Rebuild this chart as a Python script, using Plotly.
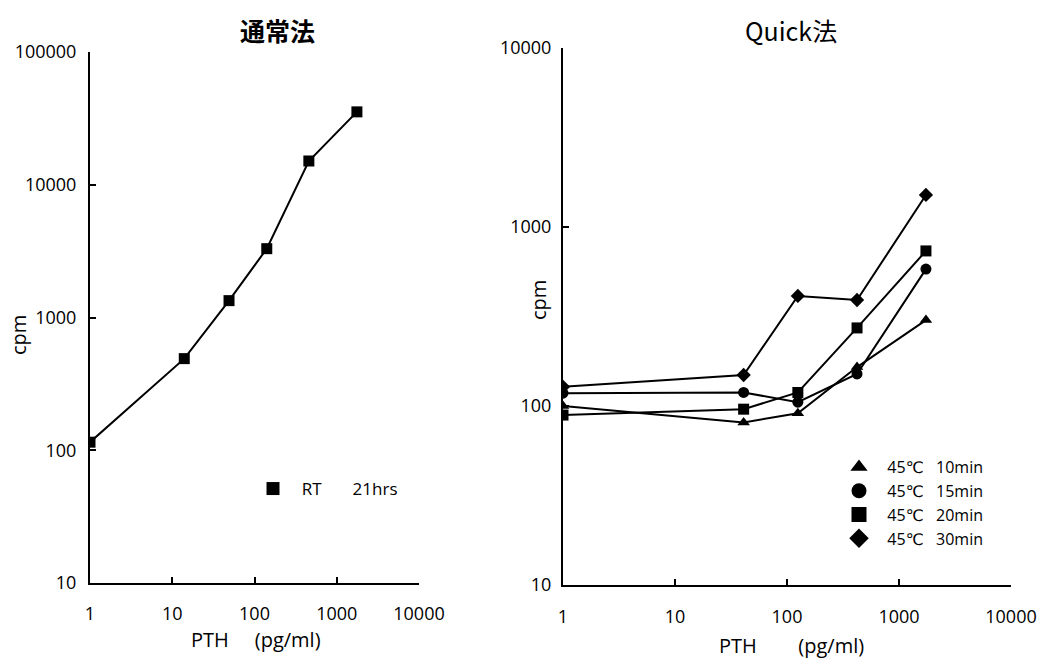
import plotly.graph_objects as go

# ---- data ----
pth_std = [1, 14, 49, 141, 458, 1758]
cpm_std = [115, 490, 1340, 3300, 15100, 35400]

pth_quick = [1, 41, 125, 422, 1740]
cpm_10min = [100, 81, 91, 165, 302]
cpm_15min = [118, 119, 105, 151, 582]
cpm_20min = [89, 96, 119, 273, 735]
cpm_30min = [128, 149, 412, 391, 1510]

quick_series = [
    ("45℃   10min", cpm_10min, "triangle-up"),
    ("45℃   15min", cpm_15min, "circle"),
    ("45℃   20min", cpm_20min, "square"),
    ("45℃   30min", cpm_30min, "diamond"),
]

x_ticks = [1, 10, 100, 1000, 10000]
y_ticks_std = [10, 100, 1000, 10000, 100000]
y_ticks_quick = [10, 100, 1000, 10000]

FONT = "Open Sans, DejaVu Sans, sans-serif"
CJK = "Noto Sans CJK JP"
NB = "\u00a0"
W, H = 1056, 663

fig = go.Figure()

fig.add_trace(go.Scatter(
    x=pth_std, y=cpm_std, mode="lines+markers",
    line=dict(color="black", width=2),
    marker=dict(symbol="square", size=11, color="black"),
    xaxis="x", yaxis="y", showlegend=False))
fig.add_trace(go.Scatter(
    x=[None], y=[None], mode="markers", name=NB * 2 + "RT" + NB * 7 + "21hrs",
    marker=dict(symbol="square", size=13, color="black"),
    xaxis="x", yaxis="y", legend="legend"))

for name, vals, sym in quick_series:
    fig.add_trace(go.Scatter(
        x=pth_quick, y=vals, mode="lines+markers",
        line=dict(color="black", width=2),
        marker=dict(symbol=sym, size=11, color="black"),
        xaxis="x2", yaxis="y2", showlegend=False))
for name, vals, sym in quick_series:
    fig.add_trace(go.Scatter(
        x=[None], y=[None], mode="markers", name=NB * 2 + name.replace(" ", NB),
        marker=dict(symbol=sym, size=15, color="black"),
        xaxis="x2", yaxis="y2", legend="legend2"))

axis_common = dict(
    type="log", showgrid=False, zeroline=False, showline=True,
    linecolor="black", linewidth=2, ticks="inside", ticklen=6,
    tickwidth=2, tickcolor="black", mirror=False, automargin=False,
    tickfont=dict(family=FONT, size=18, color="black"),
)

def px(x, y):
    return x / W, 1 - y / H

annotations = []
def add_text(text, x, y, size, family=FONT, angle=0):
    ax, ay = px(x, y)
    annotations.append(dict(text=text, x=ax, y=ay, xref="paper", yref="paper",
                            xanchor="center", yanchor="middle", showarrow=False,
                            textangle=angle,
                            font=dict(family=family, size=size, color="black")))

add_text("<b>通常法</b>", 277, 30, 25, CJK)
add_text("Quick法", 791, 30, 25, CJK)
add_text("cpm", 18, 335, 20, angle=-90)
add_text("cpm", 539, 300, 20, angle=-90)
add_text("PTH" + NB * 5 + "(pg/ml)", 256, 639, 20)
add_text("PTH" + NB * 8 + "(pg/ml)", 791, 645, 20)

fig.update_layout(
    width=W, height=H,
    margin=dict(l=0, r=0, t=0, b=0, autoexpand=False),
    plot_bgcolor="white", paper_bgcolor="white",
    xaxis=dict(**axis_common, domain=[90 / W, 419 / W], anchor="y",
               range=[0, 4], tickvals=x_ticks, ticklabelstandoff=13,
               ticktext=[str(v) for v in x_ticks]),
    yaxis=dict(**axis_common, domain=[1 - 583 / H, 1 - 52 / H], anchor="x",
               range=[1, 5], tickvals=y_ticks_std, ticklabelstandoff=8,
               ticktext=[str(v) for v in y_ticks_std]),
    xaxis2=dict(**axis_common, domain=[563 / W, 1011 / W], anchor="y2",
                range=[0, 4], tickvals=x_ticks, ticklabelstandoff=14,
                ticktext=[str(v) for v in x_ticks]),
    yaxis2=dict(**axis_common, domain=[1 - 585 / H, 1 - 48 / H], anchor="x2",
                range=[1, 4], tickvals=y_ticks_quick, ticklabelstandoff=6,
                ticktext=[str(v) for v in y_ticks_quick]),
    legend=dict(x=253 / W, y=1 - 489 / H, xanchor="left", yanchor="middle",
                bgcolor="rgba(0,0,0,0)",
                font=dict(family=FONT, size=17, color="black")),
    legend2=dict(x=839 / W, y=1 - 503 / H, xanchor="left", yanchor="middle",
                 bgcolor="rgba(0,0,0,0)", tracegroupgap=0,
                 font=dict(family=FONT, size=16, color="black")),
    annotations=annotations,
)

fig.write_html("out.html")
